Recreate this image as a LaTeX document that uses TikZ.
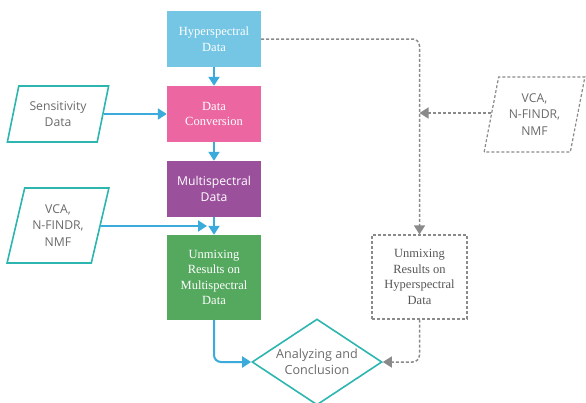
\documentclass[tikz,border=0pt]{standalone}
\usepackage{fontspec}
\setmainfont{Liberation Serif}
\newfontfamily\labelsans{Open Sans}
\usetikzlibrary{shapes.geometric,arrows.meta}

\definecolor{hscol}{HTML}{74C6E4}
\definecolor{dccol}{HTML}{EC67A1}
\definecolor{mscol}{HTML}{9B509C}
\definecolor{umcol}{HTML}{55A95F}
\definecolor{flowcol}{HTML}{3AABDA}
\definecolor{tealcol}{HTML}{2DB5B0}
\definecolor{dashcol}{HTML}{8A8A8A}
\definecolor{txtcol}{HTML}{6A6A6A}

\tikzset{
  procbox/.style={rectangle, minimum width=94pt, minimum height=56pt, inner sep=0pt,
    align=center, text=white, font=\fontsize{12.5}{15.5}\selectfont},
  dashbox/.style={rectangle, draw=dashcol, dash pattern=on 3pt off 2pt, line width=1.2pt,
    minimum width=95pt, minimum height=84pt, inner sep=0pt,
    align=center, text=txtcol!80!black, font=\fontsize{12.5}{15.5}\selectfont},
  inputbox/.style={trapezium, trapezium stretches=true, inner sep=0pt,
    trapezium left angle=72, trapezium right angle=108,
    minimum width=102pt, align=center, text=txtcol,
    font=\labelsans\fontsize{12.2}{16.5}\selectfont},
  flow/.style={draw=flowcol, line width=2pt,
    -{Triangle[width=11pt,length=9pt]}, rounded corners=7pt},
  dashflow/.style={draw=dashcol, line width=1.5pt, dash pattern=on 3pt off 2pt,
    -{Triangle[width=11pt,length=9pt]}, rounded corners=7pt}
}

\begin{document}
\begin{tikzpicture}[x=1pt,y=-1pt]
  \useasboundingbox (0,0) rectangle (586,402);

  % main processing column
  \node[procbox, fill=hscol] (hs)  at (214,39)  {Hyperspectral\\Data};
  \node[procbox, fill=dccol] (dc)  at (214,114) {Data\\Conversion};
  \node[procbox, fill=mscol, font=\labelsans\fontsize{12.2}{16.5}\selectfont] (ms) at (214,189) {Multispectral\\Data};
  \node[procbox, fill=umcol, minimum height=85pt] (ums) at (214,277.5) {Unmixing\\Results on\\Multispectral\\Data};

  % inputs on the left
  \node[inputbox, draw=tealcol, line width=1.6pt, minimum height=56pt] (sens) at (58,114) {Sensitivity\\Data};
  \node[inputbox, draw=tealcol, line width=1.6pt, minimum height=75pt] (vcal) at (58,225.5) {VCA,\\N-FINDR,\\NMF};

  % hyperspectral branch on the right
  \node[inputbox, draw=dashcol, dash pattern=on 3pt off 2pt, line width=1.2pt, minimum height=75pt,
        trapezium left angle=76, trapezium right angle=104, minimum width=101pt] (vcar) at (534.5,114.5) {VCA,\\N-FINDR,\\NMF};
  \node[dashbox] (uh) at (419.5,277) {Unmixing\\Results on\\Hyperspectral\\Data};

  % final decision
  \node[diamond, draw=tealcol, line width=1.6pt, minimum width=130pt, minimum height=86pt,
        inner sep=0pt,
        label={[align=center, text=txtcol, font=\labelsans\fontsize{12.6}{16.5}\selectfont]center:Analyzing and\\Conclusion}] (an) at (317,362) {};

  % connectors of the main column
  \draw[flow] (hs) -- (dc);
  \draw[flow] (dc) -- (ms);
  \draw[flow] (ms) -- (ums);
  \draw[flow] (sens.east) -- (sens.east -| dc.west);
  \coordinate (vcaend) at (207,226);
  \draw[flow] (vcal.east |- vcaend) -- (vcaend);
  \draw[flow] (ums.south) |- (an.west);

  % hyperspectral branch connectors
  \draw[dashflow] (hs.east) -| (uh.north);
  \draw[dashflow] (vcar.west |- 0,113) -- (uh.center |- 0,113);
  \draw[dashflow] (uh.south) |- (an.east);
\end{tikzpicture}
\end{document}
